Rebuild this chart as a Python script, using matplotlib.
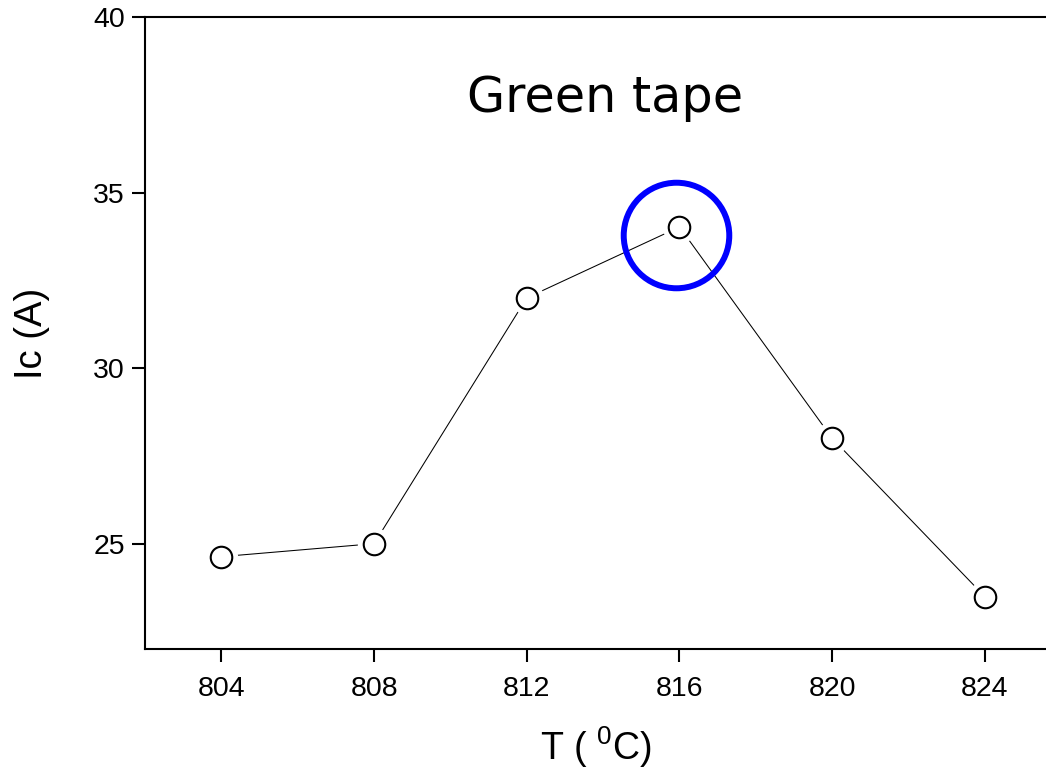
import matplotlib
matplotlib.use("Agg")
import matplotlib.pyplot as plt

# sintering temperature vs critical current, green tape
T = [804, 808, 812, 816, 820, 824]
Ic = [24.63, 25.0, 32.0, 34.02, 28.0, 23.49]
# highlighted optimum
best_T = [815.91]
best_Ic = [33.79]
xticks = [804, 808, 812, 816, 820, 824]
yticks = [25, 30, 35, 40]

plt.rcParams['font.family'] = ['Liberation Sans', 'DejaVu Sans']
plt.rcParams['mathtext.fontset'] = 'custom'
plt.rcParams['mathtext.rm'] = 'Liberation Sans'

fig = plt.figure(figsize=(10.46, 7.71), dpi=100)
ax = fig.add_axes([145/1046, 1 - 649/771, 1 - 145/1046, (649 - 17)/771])

ax.plot(T, Ic, color='black', lw=0.75, zorder=2)
# white halo so the line stops short of the markers
ax.plot(T, Ic, 'o', ms=24, mfc='white', mec='none', zorder=3)
ax.plot(T, Ic, 'o', ms=15.5, mfc='white', mec='black', mew=1.5, zorder=4)
ax.plot(best_T, best_Ic, 'o', ms=76, mfc='none', mec='#0000ff', mew=4.3, zorder=5)

ax.set_xlim(802.0, 825.6)
ax.set_ylim(22, 40)
ax.set_xticks(xticks)
ax.set_yticks(yticks)
ax.tick_params(direction='out', length=9.5, width=1.5, labelsize=20.5, pad=5)
ax.tick_params(axis='x', pad=10)

ax.spines['right'].set_visible(False)
for s in ['left', 'bottom', 'top']:
    ax.spines[s].set_linewidth(1.5)

ax.set_xlabel(r'T ( $^{0}$C)', fontsize=27, labelpad=16)
ax.set_ylabel('Ic (A)', fontsize=27.5, labelpad=31)

ax.text(814.05, 37.7, 'Green tape', fontsize=35.5, ha='center', va='center',
        family='DejaVu Sans')

fig.savefig('out.png', dpi=100)
